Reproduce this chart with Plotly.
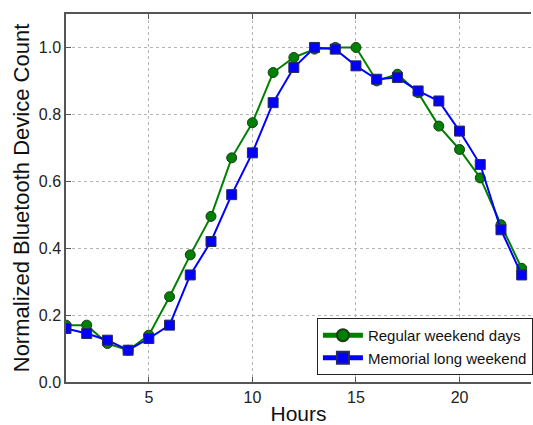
import plotly.graph_objects as go

hours = list(range(1, 24))
regular = [0.17, 0.17, 0.115, 0.095, 0.14, 0.255, 0.38, 0.495, 0.67, 0.775, 0.925, 0.97,
           0.995, 1.0, 1.0, 0.90, 0.92, 0.865, 0.765, 0.695, 0.61, 0.47, 0.34]
memorial = [0.16, 0.145, 0.125, 0.095, 0.13, 0.17, 0.32, 0.42, 0.56, 0.685, 0.835, 0.94,
            1.0, 0.995, 0.945, 0.905, 0.91, 0.87, 0.84, 0.75, 0.65, 0.455, 0.32]
x_ticks = [5, 10, 15, 20]
y_ticks = [0.0, 0.2, 0.4, 0.6, 0.8, 1.0]
y_tick_labels = ["0.0", "0.2", "0.4", "0.6", "0.8", "1.0"]

W, H = 533, 425
L, T, B, R = 66, 14, 43, 0
pw = W - L - R
ph = H - T - B
FONT = "Liberation Sans, Arial"
XRANGE = [1, 23.45]

fig = go.Figure()
fig.add_trace(go.Scatter(
    x=hours, y=regular, mode="lines+markers", name="Regular weekend days",
    line=dict(color="#008000", width=2),
    marker=dict(symbol="circle", size=10, color="#008000", line=dict(color="#1a3d1a", width=1)),
))
fig.add_trace(go.Scatter(
    x=hours, y=memorial, mode="lines+markers", name="Memorial long weekend",
    line=dict(color="#0000ff", width=2),
    marker=dict(symbol="square", size=10, color="#0000ff", line=dict(color="#2a2a5a", width=1)),
))

axis_common = dict(
    showline=True, linecolor="#555555", linewidth=1.5, mirror=False,
    ticks="inside", ticklen=5, tickcolor="#555555",
    showgrid=True, gridcolor="#b4b4b4", griddash="dot", gridwidth=1,
    zeroline=False,
    tickfont=dict(family=FONT, size=16, color="#222222"),
)

fig.update_layout(
    width=W, height=H,
    margin=dict(l=L, r=R, t=T, b=B),
    paper_bgcolor="white", plot_bgcolor="white",
    xaxis=dict(range=XRANGE, tickvals=x_ticks,
               title=dict(text="Hours", standoff=2,
                          font=dict(family=FONT, size=21, color="#111111")),
               **axis_common),
    xaxis2=dict(range=XRANGE, tickvals=x_ticks, overlaying="x", side="top",
                showline=True, linecolor="#555555", linewidth=1.5,
                ticks="inside", ticklen=5, tickcolor="#555555",
                showticklabels=False, showgrid=False, zeroline=False),
    yaxis=dict(range=[0, 1.1], tickvals=y_ticks, ticktext=y_tick_labels,
               title=dict(text="Normalized Bluetooth Device Count", standoff=3,
                          font=dict(family=FONT, size=22, color="#111111")),
               **axis_common),
    legend=dict(
        x=(318 - L) / pw, y=(382 - 375) / ph, xanchor="left", yanchor="bottom",
        bgcolor="white", bordercolor="#222222", borderwidth=1,
        font=dict(family=FONT, size=15, color="#111111"),
        tracegroupgap=0, itemsizing="constant", itemwidth=40,
    ),
    showlegend=True,
)
# invisible trace to activate the top axis
fig.add_trace(go.Scatter(x=[XRANGE[0]], y=[0], xaxis="x2", mode="markers",
                         marker=dict(opacity=0), showlegend=False, hoverinfo="skip"))

fig.write_html("out.html")
